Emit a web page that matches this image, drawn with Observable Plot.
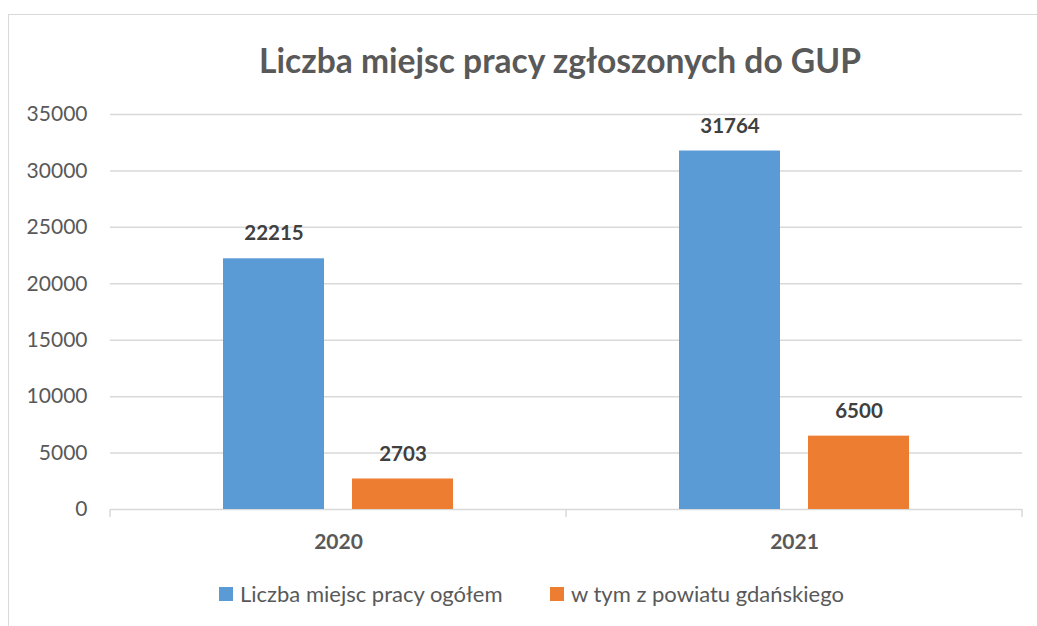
<!DOCTYPE html>
<html>
<head>
<meta charset="utf-8">
<script src="https://cdn.jsdelivr.net/npm/d3@7"></script>
<script src="https://cdn.jsdelivr.net/npm/@observablehq/plot@0.6"></script>
<style>
  html, body { margin: 0; padding: 0; background: #fff; }
  #wrap { position: relative; width: 1037px; height: 626px; overflow: hidden; font-family: Lato, "Open Sans", sans-serif; }
  #border { position: absolute; left: 8px; top: 14px; width: 1200px; height: 800px; border: 1.5px solid #d9d9d9; box-sizing: border-box; }
  #title { position: absolute; left: 60px; width: 1000px; top: 40px; text-align: center; font-size: 33.6px; font-weight: bold; color: #595959; line-height: 1.2; }
  #chart { position: absolute; left: 0; top: 0; }
  #legend { position: absolute; top: 580px; left: 0; width: 1037px; font-size: 22px; color: #595959; }
  .item { position: absolute; display: flex; align-items: center; white-space: nowrap; }
  .sw { width: 14px; height: 14px; margin-right: 7px; }
</style>
</head>
<body>
<div id="wrap">
  <div id="border"></div>
  <div id="chart"></div>
  <div id="title">Liczba miejsc pracy zgłoszonych do GUP</div>
  <div id="legend"></div>
</div>
<script>
const years = ["2020", "2021"];
const seriesNames = ["Liczba miejsc pracy ogółem", "w tym z powiatu gdańskiego"];
const totalValues = [22215, 31764];
const localValues = [2703, 6500];
const seriesColors = ["#5B9BD5", "#ED7D31"];
const yTicks = [0, 5000, 10000, 15000, 20000, 25000, 30000, 35000];

const data = [];
years.forEach((y, i) => {
  data.push({year: y, series: seriesNames[0], value: totalValues[i]});
  data.push({year: y, series: seriesNames[1], value: localValues[i]});
});

const chart = Plot.plot({
  width: 1037,
  height: 626,
  marginTop: 114,
  marginBottom: 117,
  marginLeft: 110,
  marginRight: 15,
  style: {fontFamily: "Lato, 'Open Sans', sans-serif", background: "transparent", overflow: "visible"},
  fx: {domain: years, paddingInner: 0, paddingOuter: 0, label: null},
  x: {domain: seriesNames, paddingInner: 0.215, paddingOuter: 0.862, axis: null},
  y: {domain: [0, 35000], label: null},
  color: {domain: seriesNames, range: seriesColors},
  marks: [
    Plot.gridY(yTicks, {stroke: "#d9d9d9", strokeOpacity: 1, strokeWidth: 1.5}),
    Plot.axisY(yTicks, {tickSize: 0, tickPadding: 23, fontSize: 21, fill: "#595959", tickFormat: d => String(d), label: null}),
    Plot.axisFx({anchor: "bottom", tickSize: 0, tickPadding: 25, fontSize: 21, fontWeight: "bold", fill: "#595959", label: null}),
    Plot.barY(data, {fx: "year", x: "series", y: "value", fill: "series"}),
    Plot.text(data, {fx: "year", x: "series", y: "value", text: d => String(d.value), dy: -25, lineAnchor: "middle", fontSize: 20.5, fontWeight: "bold", fill: "#404040"})
  ]
});
document.getElementById("chart").appendChild(chart);

// boundary ticks below the category axis, derived from the fx scale
const fx = chart.scale("fx");
const y = chart.scale("y");
const r = fx.range;
const n = fx.domain.length;
const y0 = y.apply ? y.apply(0) : 509;
const svg = d3.select(chart);
for (let i = 0; i <= n; i++) {
  const xe = r[0] + i * (r[1] - r[0]) / n;
  svg.append("line").attr("x1", xe).attr("x2", xe).attr("y1", y0).attr("y2", y0 + 8)
    .attr("stroke", "#d9d9d9").attr("stroke-width", 1.5);
}

// legend
const legend = document.getElementById("legend");
const positions = [219, 550];
seriesNames.forEach((s, i) => {
  const item = document.createElement("div");
  item.className = "item";
  item.style.left = positions[i] + "px";
  const sw = document.createElement("div");
  sw.className = "sw";
  sw.style.background = seriesColors[i];
  const t = document.createElement("span");
  t.textContent = s;
  item.appendChild(sw);
  item.appendChild(t);
  legend.appendChild(item);
});
</script>
</body>
</html>
